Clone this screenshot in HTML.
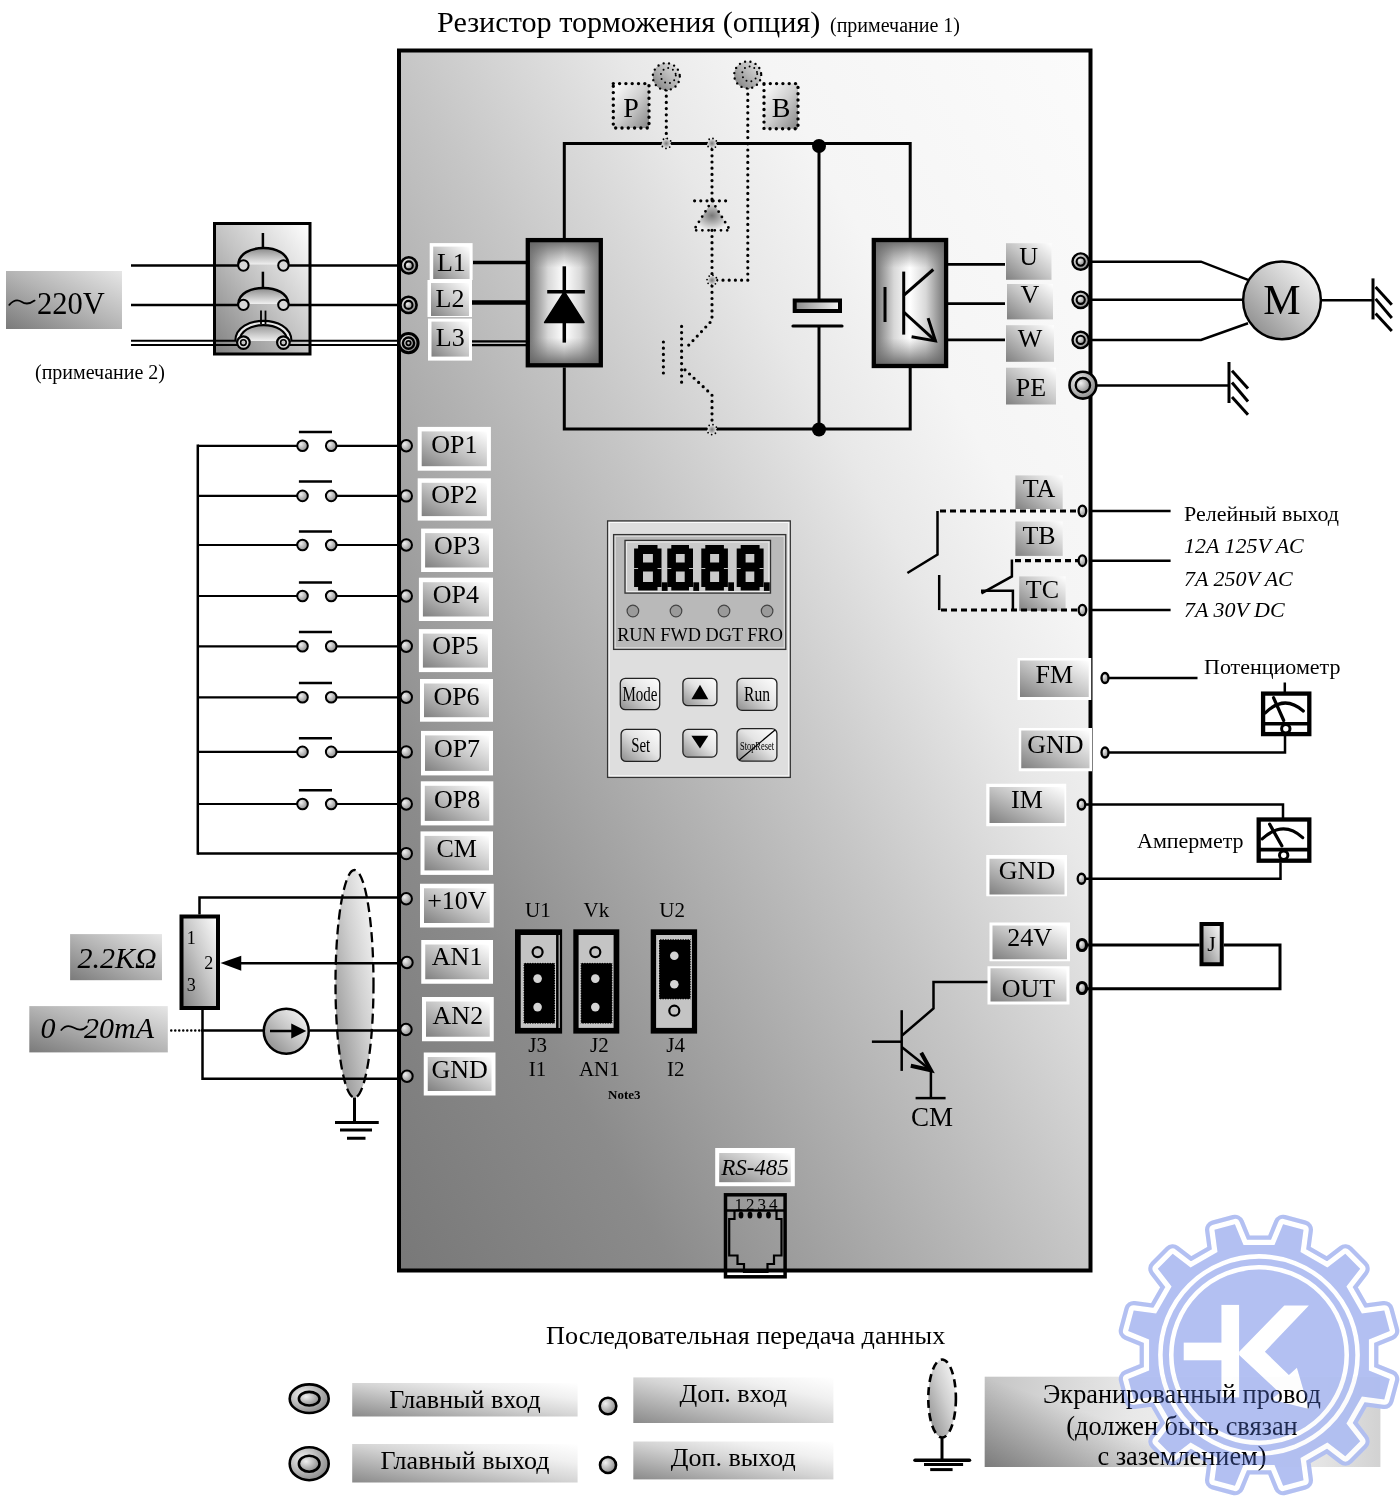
<!DOCTYPE html><html><head><meta charset="utf-8"><style>html,body{margin:0;padding:0;background:#fff;}svg{display:block;will-change:transform;}</style></head><body>
<svg width="1400" height="1500" viewBox="0 0 1400 1500" font-family='"Liberation Serif", serif'>
<defs>
<linearGradient id="mainbg" x1="1" y1="0" x2="0" y2="1">
 <stop offset="0" stop-color="#fbfbfb"/><stop offset="0.24" stop-color="#f5f5f5"/><stop offset="0.34" stop-color="#e8e8e8"/>
 <stop offset="0.5" stop-color="#c6c6c6"/><stop offset="0.8" stop-color="#8b8b8b"/><stop offset="1" stop-color="#787878"/>
</linearGradient>
<linearGradient id="lg" x1="1" y1="0" x2="0" y2="1">
 <stop offset="0" stop-color="#ffffff"/><stop offset="0.5" stop-color="#c4c4c4"/><stop offset="1" stop-color="#808080"/>
</linearGradient>
<linearGradient id="lg2" x1="1" y1="0" x2="0" y2="1">
 <stop offset="0" stop-color="#e6e6e6"/><stop offset="0.5" stop-color="#b4b4b4"/><stop offset="1" stop-color="#7a7a7a"/>
</linearGradient>
<linearGradient id="leg" x1="1" y1="0" x2="0" y2="1">
 <stop offset="0" stop-color="#ffffff"/><stop offset="0.25" stop-color="#f0f0f0"/><stop offset="0.5" stop-color="#d4d4d4"/><stop offset="1" stop-color="#8a8a8a"/>
</linearGradient>
<linearGradient id="shh" x1="0" y1="0" x2="1" y2="0">
 <stop offset="0" stop-color="#c4c4c4"/><stop offset="0.2" stop-color="#d8d8d8"/><stop offset="0.37" stop-color="#e8e8e8"/><stop offset="0.6" stop-color="#f2f2f2"/><stop offset="0.85" stop-color="#e4e4e4"/><stop offset="1" stop-color="#d2d2d2"/>
</linearGradient>
<linearGradient id="shv" gradientUnits="userSpaceOnUse" x1="984.7" y1="1376.7" x2="956.6" y2="1456.9">
 <stop offset="0" stop-color="#000" stop-opacity="0"/><stop offset="1" stop-color="#000" stop-opacity="0.37"/>
</linearGradient>
<radialGradient id="tg" cx="0.35" cy="0.35" r="0.7">
 <stop offset="0" stop-color="#f0f0f0"/><stop offset="1" stop-color="#8a8a8a"/>
</radialGradient>
<radialGradient id="boxg" cx="0.5" cy="0.5" r="0.6">
 <stop offset="0" stop-color="#ffffff"/><stop offset="0.45" stop-color="#eeeeee"/><stop offset="1" stop-color="#6e6e6e"/>
</radialGradient>
<linearGradient id="hbox" x1="0" y1="0" x2="1" y2="0">
 <stop offset="0" stop-color="#6c6c6c"/><stop offset="0.28" stop-color="#d8d8d8"/><stop offset="0.5" stop-color="#ffffff"/><stop offset="0.72" stop-color="#d8d8d8"/><stop offset="1" stop-color="#6c6c6c"/>
</linearGradient>
<linearGradient id="vbox" x1="0" y1="0" x2="0" y2="1">
 <stop offset="0" stop-color="#606060" stop-opacity="0.95"/><stop offset="0.22" stop-color="#808080" stop-opacity="0"/><stop offset="0.78" stop-color="#808080" stop-opacity="0"/><stop offset="1" stop-color="#606060" stop-opacity="0.95"/>
</linearGradient>
<linearGradient id="arcg" x1="0" y1="0" x2="0" y2="1">
 <stop offset="0" stop-color="#8a8a8a"/><stop offset="1" stop-color="#f0f0f0"/>
</linearGradient>
<linearGradient id="pbg" x1="0" y1="0" x2="1" y2="1">
 <stop offset="0" stop-color="#ffffff"/><stop offset="0.5" stop-color="#d0d0d0"/><stop offset="1" stop-color="#858585"/>
</linearGradient>
<linearGradient id="capg" x1="0" y1="0" x2="1" y2="0">
 <stop offset="0" stop-color="#8a8a8a"/><stop offset="1" stop-color="#f4f4f4"/>
</linearGradient>
<radialGradient id="dotg" cx="0.5" cy="0.5" r="0.5">
 <stop offset="0" stop-color="#777"/><stop offset="1" stop-color="#eee"/>
</radialGradient>
<linearGradient id="ellg" x1="1" y1="0" x2="0" y2="1">
 <stop offset="0" stop-color="#fdfdfd"/><stop offset="0.45" stop-color="#d0d0d0"/><stop offset="1" stop-color="#888888"/>
</linearGradient>
<linearGradient id="btng" x1="1" y1="0" x2="0" y2="1">
 <stop offset="0" stop-color="#ffffff"/><stop offset="0.45" stop-color="#e4e4e4"/><stop offset="1" stop-color="#8c8c8c"/>
</linearGradient>
</defs>
<text x="437" y="32" font-size="30.2" text-anchor="start" fill="#000" >Резистор торможения (опция)</text>
<text x="830" y="32" font-size="20" text-anchor="start" fill="#000" >(примечание 1)</text>
<rect x="399" y="50.5" width="691.5" height="1220" fill="url(#mainbg)" stroke="#000" stroke-width="4"/>
<rect x="6" y="271" width="116" height="58" fill="url(#lg2)"/>
<text x="37" y="314" font-size="30.5" text-anchor="start" fill="#000" >220V</text>
<path d="M9.3,304.8 Q15.5,297.8 21.5,301.8 T34.6,300.6" fill="none" stroke="#000" stroke-width="1.8" stroke-linecap="round"/>
<text x="35" y="379" font-size="20" text-anchor="start" fill="#000" >(примечание 2)</text>
<rect x="214.5" y="223.5" width="95.5" height="130.5" fill="url(#lg)" stroke="#000" stroke-width="3"/>
<line x1="131" y1="265.5" x2="238" y2="265.5" stroke="#000" stroke-width="2.5" />
<line x1="288.5" y1="265.5" x2="397" y2="265.5" stroke="#000" stroke-width="2.5" />
<line x1="131" y1="304.9" x2="238" y2="304.9" stroke="#000" stroke-width="2.5" />
<line x1="288.5" y1="304.9" x2="397" y2="304.9" stroke="#000" stroke-width="2.5" />
<line x1="131" y1="340.7" x2="237" y2="340.7" stroke="#000" stroke-width="2" />
<line x1="289.5" y1="340.7" x2="397" y2="340.7" stroke="#000" stroke-width="2" />
<line x1="131" y1="344.9" x2="237" y2="344.9" stroke="#000" stroke-width="2" />
<line x1="289.5" y1="344.9" x2="397" y2="344.9" stroke="#000" stroke-width="2" />
<path d="M238.5,264.5 C238.5,242.6 288.3,242.6 288.3,264.5" fill="url(#arcg)" stroke="#000" stroke-width="2.5"/>
<line x1="262.9" y1="233" x2="262.9" y2="247.6" stroke="#000" stroke-width="2.5" />
<circle cx="243.4" cy="265.5" r="5.2" fill="#d8d8d8" stroke="#000" stroke-width="2"/>
<circle cx="283.4" cy="265.5" r="5.2" fill="#d8d8d8" stroke="#000" stroke-width="2"/>
<path d="M238.5,303.9 C238.5,282.6 288.3,282.6 288.3,303.9" fill="url(#arcg)" stroke="#000" stroke-width="2.5"/>
<line x1="262.9" y1="271.7" x2="262.9" y2="287.6" stroke="#000" stroke-width="2.5" />
<circle cx="243.4" cy="304.9" r="5.2" fill="#d8d8d8" stroke="#000" stroke-width="2"/>
<circle cx="283.4" cy="304.9" r="5.2" fill="#d8d8d8" stroke="#000" stroke-width="2"/>
<path d="M237.5,341 C237.5,317 289.3,317 289.3,341" fill="url(#arcg)" stroke="#000" stroke-width="6.5"/>
<path d="M237.5,341 C237.5,317 289.3,317 289.3,341" fill="none" stroke="#e8e8e8" stroke-width="2.2"/>
<line x1="261" y1="310.6" x2="261" y2="324" stroke="#000" stroke-width="1.8" />
<line x1="265.5" y1="310.6" x2="265.5" y2="324" stroke="#000" stroke-width="1.8" />
<circle cx="243.4" cy="342.6" r="6.3" fill="#e0e0e0" stroke="#000" stroke-width="2.2"/>
<circle cx="243.4" cy="342.6" r="2.8" fill="#c8c8c8" stroke="#000" stroke-width="1.6"/>
<circle cx="283.4" cy="342.6" r="6.3" fill="#e0e0e0" stroke="#000" stroke-width="2.2"/>
<circle cx="283.4" cy="342.6" r="2.8" fill="#c8c8c8" stroke="#000" stroke-width="1.6"/>
<circle cx="408.8" cy="265.4" r="8.1" fill="url(#tg)" stroke="#000" stroke-width="2.6"/>
<circle cx="408.8" cy="265.4" r="4.0" fill="url(#tg)" stroke="#000" stroke-width="2.1"/>
<circle cx="408.5" cy="304.9" r="8.1" fill="url(#tg)" stroke="#000" stroke-width="2.6"/>
<circle cx="408.5" cy="304.9" r="4.0" fill="url(#tg)" stroke="#000" stroke-width="2.1"/>
<circle cx="408.5" cy="343.1" r="9.6" fill="url(#tg)" stroke="#000" stroke-width="3"/>
<circle cx="408.5" cy="343.1" r="5.6" fill="url(#tg)" stroke="#000" stroke-width="2.4"/>
<circle cx="408.5" cy="343.1" r="2.2" fill="#bbb" stroke="#000" stroke-width="1.8"/>
<rect x="429.7" y="243.1" width="42.900000000000034" height="36.900000000000006" fill="#fff"/>
<rect x="433.2" y="246.6" width="36.400000000000034" height="32.400000000000006" fill="url(#lg)"/>
<text x="451.4" y="271.4" font-size="26" text-anchor="middle" fill="#000" >L1</text>
<rect x="427.5" y="280" width="44.5" height="37" fill="#fff"/>
<rect x="431.0" y="283" width="38.0" height="33" fill="url(#lg)"/>
<text x="450.0" y="307.4" font-size="26" text-anchor="middle" fill="#000" >L2</text>
<rect x="428" y="318.6" width="44" height="42.0" fill="#fff"/>
<rect x="431.5" y="321.6" width="37.5" height="35.0" fill="url(#lg)"/>
<text x="450.25" y="346" font-size="26" text-anchor="middle" fill="#000" >L3</text>
<line x1="473" y1="262.5" x2="527" y2="262.5" stroke="#000" stroke-width="3.5" />
<line x1="472" y1="302.6" x2="527" y2="302.6" stroke="#000" stroke-width="4.5" />
<line x1="472" y1="341.4" x2="527" y2="341.4" stroke="#000" stroke-width="2.2" />
<line x1="472" y1="345.1" x2="527" y2="345.1" stroke="#000" stroke-width="2.2" />
<polyline points="564.3,238 564.3,143.4 910.2,143.4 910.2,238" fill="none" stroke="#000" stroke-width="3" />
<polyline points="564.3,367.4 564.3,429 910.2,429 910.2,368" fill="none" stroke="#000" stroke-width="3" />
<rect x="527.8" y="240.1" width="73" height="125.2" fill="url(#hbox)"/>
<rect x="527.8" y="240.1" width="73" height="125.2" fill="url(#vbox)" stroke="#000" stroke-width="4.3"/>
<line x1="564.3" y1="266.3" x2="564.3" y2="342.6" stroke="#000" stroke-width="3.5" />
<line x1="547.2" y1="291.7" x2="584.9" y2="291.7" stroke="#000" stroke-width="3.5" />
<polygon points="564.3,291.7 544.6,322.5 584,322.5" fill="#000" stroke="#000" stroke-width="1.5" stroke-linejoin="round"/>
<rect x="873.8" y="240" width="72.3" height="126" fill="url(#hbox)"/>
<rect x="873.8" y="240" width="72.3" height="126" fill="url(#vbox)" stroke="#000" stroke-width="4.3"/>
<line x1="885" y1="287" x2="885" y2="322" stroke="#000" stroke-width="3" />
<line x1="903.7" y1="271.6" x2="903.7" y2="334.6" stroke="#000" stroke-width="3" />
<line x1="903.7" y1="295.4" x2="933.3" y2="269.5" stroke="#000" stroke-width="3" />
<line x1="903.7" y1="312" x2="935.4" y2="340.9" stroke="#000" stroke-width="3" />
<polyline points="928.1,318.1 935.4,340.9 911.6,336.7" fill="none" stroke="#000" stroke-width="3" />
<line x1="948" y1="264.4" x2="1005" y2="264.4" stroke="#000" stroke-width="2.8" />
<line x1="948" y1="303.6" x2="1005" y2="303.6" stroke="#000" stroke-width="2.8" />
<line x1="948" y1="339.8" x2="1005" y2="339.8" stroke="#000" stroke-width="2.8" />
<line x1="819" y1="146" x2="819" y2="300" stroke="#000" stroke-width="3" />
<line x1="819" y1="326" x2="819" y2="429.5" stroke="#000" stroke-width="3" />
<rect x="794.7" y="300.5" width="45.3" height="10.5" fill="url(#capg)" stroke="#000" stroke-width="4"/>
<line x1="793" y1="326" x2="842" y2="326" stroke="#000" stroke-width="3.2" stroke-linecap="round"/>
<circle cx="819" cy="146" r="7" fill="#000"/>
<circle cx="819" cy="429.5" r="7" fill="#000"/>
<polyline points="666.3,90 666.3,143.4" fill="none" stroke="#000" stroke-width="3.2" stroke-dasharray="0 6.2" stroke-linecap="round"/>
<polyline points="747.8,88 747.8,280.2 712,280.2" fill="none" stroke="#000" stroke-width="3.2" stroke-dasharray="0 6.2" stroke-linecap="round"/>
<polyline points="712,143.4 712,200.8" fill="none" stroke="#000" stroke-width="3.2" stroke-dasharray="0 6.2" stroke-linecap="round"/>
<polygon points="712,200.8 693.7,230.3 730.1,230.3" fill="url(#dotg)"/>
<polyline points="712,200.8 693.7,230.3 730.1,230.3 712,200.8" fill="none" stroke="#000" stroke-width="2.8" stroke-dasharray="0 6.2" stroke-linecap="round"/>
<polyline points="694.6,200.8 726.7,200.8" fill="none" stroke="#000" stroke-width="3.2" stroke-dasharray="0 6.2" stroke-linecap="round"/>
<polyline points="712,230.3 712,320.4 685,349" fill="none" stroke="#000" stroke-width="3.2" stroke-dasharray="0 6.2" stroke-linecap="round"/>
<polyline points="681.6,326.4 681.6,388" fill="none" stroke="#000" stroke-width="3.2" stroke-dasharray="0 6.2" stroke-linecap="round"/>
<polyline points="663.4,342 663.4,373.2" fill="none" stroke="#000" stroke-width="3.2" stroke-dasharray="0 6.2" stroke-linecap="round"/>
<polyline points="685,369.8 712,394.9 712,429.6" fill="none" stroke="#000" stroke-width="3.2" stroke-dasharray="0 6.2" stroke-linecap="round"/>
<circle cx="666.3" cy="143.4" r="5" fill="url(#dotg)"/>
<circle cx="666.3" cy="143.4" r="5" fill="none" stroke="#000" stroke-width="1.8" stroke-dasharray="0 4" stroke-linecap="round"/>
<circle cx="712" cy="143.4" r="5" fill="url(#dotg)"/>
<circle cx="712" cy="143.4" r="5" fill="none" stroke="#000" stroke-width="1.8" stroke-dasharray="0 4" stroke-linecap="round"/>
<circle cx="712" cy="280.2" r="5" fill="url(#dotg)"/>
<circle cx="712" cy="280.2" r="5" fill="none" stroke="#000" stroke-width="1.8" stroke-dasharray="0 4" stroke-linecap="round"/>
<circle cx="712" cy="429.6" r="5" fill="url(#dotg)"/>
<circle cx="712" cy="429.6" r="5" fill="none" stroke="#000" stroke-width="1.8" stroke-dasharray="0 4" stroke-linecap="round"/>
<circle cx="666.3" cy="76.6" r="13.5" fill="url(#lg2)"/>
<circle cx="666.3" cy="76.6" r="13.5" fill="none" stroke="#000" stroke-width="2.4" stroke-dasharray="0 5.5" stroke-linecap="round"/>
<circle cx="668.3" cy="75.6" r="7.5" fill="none" stroke="#000" stroke-width="2" stroke-dasharray="0 5" stroke-linecap="round"/>
<circle cx="747.7" cy="74.9" r="13.5" fill="url(#lg2)"/>
<circle cx="747.7" cy="74.9" r="13.5" fill="none" stroke="#000" stroke-width="2.4" stroke-dasharray="0 5.5" stroke-linecap="round"/>
<circle cx="749.7" cy="73.9" r="7.5" fill="none" stroke="#000" stroke-width="2" stroke-dasharray="0 5" stroke-linecap="round"/>
<rect x="613.3" y="83.6" width="35.700000000000045" height="44.400000000000006" fill="url(#pbg)" stroke="#000" stroke-width="3.4" stroke-dasharray="0 6.3" stroke-linecap="round"/>
<text x="631.15" y="117" font-size="28" text-anchor="middle" fill="#000" >P</text>
<rect x="764" y="83.6" width="34" height="45.099999999999994" fill="url(#pbg)" stroke="#000" stroke-width="3.4" stroke-dasharray="0 6.3" stroke-linecap="round"/>
<text x="781.0" y="117" font-size="28" text-anchor="middle" fill="#000" >B</text>
<rect x="1006" y="243.2" width="45.5" height="36.60000000000002" fill="url(#lg)"/>
<text x="1028.75" y="265" font-size="26" text-anchor="middle" fill="#000" >U</text>
<rect x="1007" y="284" width="46" height="35.39999999999998" fill="url(#lg)"/>
<text x="1030.0" y="303" font-size="26" text-anchor="middle" fill="#000" >V</text>
<rect x="1006" y="325.2" width="48" height="36.60000000000002" fill="url(#lg)"/>
<text x="1030.0" y="347" font-size="26" text-anchor="middle" fill="#000" >W</text>
<rect x="1006" y="367.7" width="50" height="36.80000000000001" fill="url(#lg)"/>
<text x="1031.0" y="395.7" font-size="26" text-anchor="middle" fill="#000" >PE</text>
<circle cx="1080.7" cy="261.6" r="8.2" fill="url(#tg)" stroke="#000" stroke-width="2.4"/>
<circle cx="1080.7" cy="261.6" r="4.1" fill="url(#tg)" stroke="#000" stroke-width="2.1"/>
<circle cx="1080.7" cy="299.8" r="8.2" fill="url(#tg)" stroke="#000" stroke-width="2.4"/>
<circle cx="1080.7" cy="299.8" r="4.1" fill="url(#tg)" stroke="#000" stroke-width="2.1"/>
<circle cx="1080.7" cy="339.9" r="8.2" fill="url(#tg)" stroke="#000" stroke-width="2.4"/>
<circle cx="1080.7" cy="339.9" r="4.1" fill="url(#tg)" stroke="#000" stroke-width="2.1"/>
<circle cx="1082.9" cy="385.2" r="13.4" fill="url(#tg)" stroke="#000" stroke-width="2.6"/>
<circle cx="1082.9" cy="385.2" r="7.2" fill="url(#tg)" stroke="#000" stroke-width="2.3"/>
<polyline points="1090,261.7 1201,261.7 1248,279.8" fill="none" stroke="#000" stroke-width="2.5" />
<line x1="1090" y1="299.8" x2="1243" y2="299.8" stroke="#000" stroke-width="2.5" />
<polyline points="1090,339.9 1201,339.9 1248,323.3" fill="none" stroke="#000" stroke-width="2.5" />
<circle cx="1282" cy="300.3" r="38.9" fill="url(#lg)" stroke="#000" stroke-width="2.5"/>
<text x="1282" y="313.5" font-size="42" text-anchor="middle" fill="#000" >M</text>
<line x1="1321" y1="300.3" x2="1372.7" y2="300.3" stroke="#000" stroke-width="2.5" />
<line x1="1373" y1="278.4" x2="1373" y2="319.4" stroke="#000" stroke-width="3" />
<line x1="1375.6" y1="287" x2="1391.8" y2="304.8" stroke="#000" stroke-width="3" />
<line x1="1375.6" y1="298.9" x2="1391.8" y2="318" stroke="#000" stroke-width="3" />
<line x1="1375.6" y1="313.6" x2="1391.8" y2="331" stroke="#000" stroke-width="3" />
<line x1="1096" y1="385.4" x2="1229" y2="385.4" stroke="#000" stroke-width="2.5" />
<line x1="1229" y1="362" x2="1229" y2="403" stroke="#000" stroke-width="3" />
<line x1="1232" y1="370.8" x2="1248" y2="388.4" stroke="#000" stroke-width="3" />
<line x1="1232" y1="382.5" x2="1248" y2="401.5" stroke="#000" stroke-width="3" />
<line x1="1232" y1="397" x2="1248" y2="414.8" stroke="#000" stroke-width="3" />
<rect x="417.7" y="426.9" width="73.19999999999999" height="43.80000000000001" fill="#fff"/>
<rect x="421.7" y="431.4" width="65.19999999999999" height="34.80000000000001" fill="url(#lg)"/>
<text x="454.29999999999995" y="453.1" font-size="26" text-anchor="middle" fill="#000" >OP1</text>
<line x1="197.8" y1="445.8" x2="297" y2="445.8" stroke="#000" stroke-width="2.2" />
<line x1="336.5" y1="445.8" x2="400" y2="445.8" stroke="#000" stroke-width="2.2" />
<circle cx="302.5" cy="445.8" r="5.3" fill="url(#tg)" stroke="#000" stroke-width="2"/>
<circle cx="331.2" cy="445.8" r="5.3" fill="url(#tg)" stroke="#000" stroke-width="2"/>
<line x1="298.9" y1="431.9" x2="332" y2="431.9" stroke="#000" stroke-width="2.5" />
<circle cx="406.3" cy="445.8" r="5.7" fill="url(#tg)" stroke="#000" stroke-width="2"/>
<rect x="417.7" y="478.3" width="73.19999999999999" height="42.30000000000001" fill="#fff"/>
<rect x="421.7" y="482.8" width="65.19999999999999" height="33.30000000000001" fill="url(#lg)"/>
<text x="454.29999999999995" y="503.4" font-size="26" text-anchor="middle" fill="#000" >OP2</text>
<line x1="197.8" y1="495.9" x2="297" y2="495.9" stroke="#000" stroke-width="2.2" />
<line x1="336.5" y1="495.9" x2="400" y2="495.9" stroke="#000" stroke-width="2.2" />
<circle cx="302.5" cy="495.9" r="5.3" fill="url(#tg)" stroke="#000" stroke-width="2"/>
<circle cx="331.2" cy="495.9" r="5.3" fill="url(#tg)" stroke="#000" stroke-width="2"/>
<line x1="298.9" y1="481.5" x2="332" y2="481.5" stroke="#000" stroke-width="2.5" />
<circle cx="406.3" cy="495.9" r="5.7" fill="url(#tg)" stroke="#000" stroke-width="2"/>
<rect x="421.1" y="528.6" width="71.89999999999998" height="43.39999999999998" fill="#fff"/>
<rect x="425.1" y="533.1" width="63.89999999999998" height="34.39999999999998" fill="url(#lg)"/>
<text x="457.05" y="553.7" font-size="26" text-anchor="middle" fill="#000" >OP3</text>
<line x1="197.8" y1="545" x2="297" y2="545" stroke="#000" stroke-width="2.2" />
<line x1="336.5" y1="545" x2="400" y2="545" stroke="#000" stroke-width="2.2" />
<circle cx="302.5" cy="545" r="5.3" fill="url(#tg)" stroke="#000" stroke-width="2"/>
<circle cx="331.2" cy="545" r="5.3" fill="url(#tg)" stroke="#000" stroke-width="2"/>
<line x1="298.9" y1="531.5" x2="332" y2="531.5" stroke="#000" stroke-width="2.5" />
<circle cx="406.3" cy="545" r="5.7" fill="url(#tg)" stroke="#000" stroke-width="2"/>
<rect x="418.9" y="577.7" width="74.10000000000002" height="43.299999999999955" fill="#fff"/>
<rect x="422.9" y="582.2" width="66.10000000000002" height="34.299999999999955" fill="url(#lg)"/>
<text x="455.95" y="602.9" font-size="26" text-anchor="middle" fill="#000" >OP4</text>
<line x1="197.8" y1="596" x2="297" y2="596" stroke="#000" stroke-width="2.2" />
<line x1="336.5" y1="596" x2="400" y2="596" stroke="#000" stroke-width="2.2" />
<circle cx="302.5" cy="596" r="5.3" fill="url(#tg)" stroke="#000" stroke-width="2"/>
<circle cx="331.2" cy="596" r="5.3" fill="url(#tg)" stroke="#000" stroke-width="2"/>
<line x1="298.9" y1="582.5" x2="332" y2="582.5" stroke="#000" stroke-width="2.5" />
<circle cx="406.3" cy="596" r="5.7" fill="url(#tg)" stroke="#000" stroke-width="2"/>
<rect x="418.9" y="629.1" width="73.10000000000002" height="43.0" fill="#fff"/>
<rect x="422.9" y="633.6" width="65.10000000000002" height="34.0" fill="url(#lg)"/>
<text x="455.45" y="654.3" font-size="26" text-anchor="middle" fill="#000" >OP5</text>
<line x1="197.8" y1="646.3" x2="297" y2="646.3" stroke="#000" stroke-width="2.2" />
<line x1="336.5" y1="646.3" x2="400" y2="646.3" stroke="#000" stroke-width="2.2" />
<circle cx="302.5" cy="646.3" r="5.3" fill="url(#tg)" stroke="#000" stroke-width="2"/>
<circle cx="331.2" cy="646.3" r="5.3" fill="url(#tg)" stroke="#000" stroke-width="2"/>
<line x1="298.9" y1="631.9" x2="332" y2="631.9" stroke="#000" stroke-width="2.5" />
<circle cx="406.3" cy="646.3" r="5.7" fill="url(#tg)" stroke="#000" stroke-width="2"/>
<rect x="420" y="679" width="73" height="42.700000000000045" fill="#fff"/>
<rect x="424" y="683.5" width="65" height="33.700000000000045" fill="url(#lg)"/>
<text x="456.5" y="704.6" font-size="26" text-anchor="middle" fill="#000" >OP6</text>
<line x1="197.8" y1="697.3" x2="297" y2="697.3" stroke="#000" stroke-width="2.2" />
<line x1="336.5" y1="697.3" x2="400" y2="697.3" stroke="#000" stroke-width="2.2" />
<circle cx="302.5" cy="697.3" r="5.3" fill="url(#tg)" stroke="#000" stroke-width="2"/>
<circle cx="331.2" cy="697.3" r="5.3" fill="url(#tg)" stroke="#000" stroke-width="2"/>
<line x1="298.9" y1="682.9" x2="332" y2="682.9" stroke="#000" stroke-width="2.5" />
<circle cx="406.3" cy="697.3" r="5.7" fill="url(#tg)" stroke="#000" stroke-width="2"/>
<rect x="421" y="730.9" width="72" height="44.5" fill="#fff"/>
<rect x="425" y="735.4" width="64" height="35.5" fill="url(#lg)"/>
<text x="457.0" y="757.1" font-size="26" text-anchor="middle" fill="#000" >OP7</text>
<line x1="197.8" y1="751.9" x2="297" y2="751.9" stroke="#000" stroke-width="2.2" />
<line x1="336.5" y1="751.9" x2="400" y2="751.9" stroke="#000" stroke-width="2.2" />
<circle cx="302.5" cy="751.9" r="5.3" fill="url(#tg)" stroke="#000" stroke-width="2"/>
<circle cx="331.2" cy="751.9" r="5.3" fill="url(#tg)" stroke="#000" stroke-width="2"/>
<line x1="298.9" y1="738.2" x2="332" y2="738.2" stroke="#000" stroke-width="2.5" />
<circle cx="406.3" cy="751.9" r="5.7" fill="url(#tg)" stroke="#000" stroke-width="2"/>
<rect x="420.8" y="781.3" width="72.5" height="44.10000000000002" fill="#fff"/>
<rect x="424.8" y="785.8" width="64.5" height="35.10000000000002" fill="url(#lg)"/>
<text x="457.05" y="807.5" font-size="26" text-anchor="middle" fill="#000" >OP8</text>
<line x1="197.8" y1="804" x2="297" y2="804" stroke="#000" stroke-width="2.2" />
<line x1="336.5" y1="804" x2="400" y2="804" stroke="#000" stroke-width="2.2" />
<circle cx="302.5" cy="804" r="5.3" fill="url(#tg)" stroke="#000" stroke-width="2"/>
<circle cx="331.2" cy="804" r="5.3" fill="url(#tg)" stroke="#000" stroke-width="2"/>
<line x1="298.9" y1="790.3" x2="332" y2="790.3" stroke="#000" stroke-width="2.5" />
<circle cx="406.3" cy="804" r="5.7" fill="url(#tg)" stroke="#000" stroke-width="2"/>
<rect x="420.5" y="831.4" width="72.5" height="43.5" fill="#fff"/>
<rect x="424.5" y="835.9" width="64.5" height="34.5" fill="url(#lg)"/>
<text x="456.75" y="856.6" font-size="26" text-anchor="middle" fill="#000" >CM</text>
<line x1="197.8" y1="853.6" x2="400" y2="853.6" stroke="#000" stroke-width="2.5" />
<circle cx="406.3" cy="853.6" r="5.7" fill="url(#tg)" stroke="#000" stroke-width="2"/>
<line x1="197.8" y1="444.5" x2="197.8" y2="854.8" stroke="#000" stroke-width="2.5" />
<rect x="420" y="883.75" width="73.75" height="43.75" fill="#fff"/>
<rect x="424" y="888.25" width="65.75" height="34.75" fill="url(#lg)"/>
<text x="456.875" y="908.75" font-size="26" text-anchor="middle" fill="#000" >+10V</text>
<rect x="421.25" y="940" width="71.75" height="43.75" fill="#fff"/>
<rect x="425.25" y="944.5" width="63.75" height="34.75" fill="url(#lg)"/>
<text x="457.125" y="965" font-size="26" text-anchor="middle" fill="#000" >AN1</text>
<rect x="422" y="997" width="71.75" height="44.25" fill="#fff"/>
<rect x="426" y="1001.5" width="63.75" height="35.25" fill="url(#lg)"/>
<text x="457.875" y="1023.75" font-size="26" text-anchor="middle" fill="#000" >AN2</text>
<rect x="423.75" y="1052.5" width="71.75" height="43.0" fill="#fff"/>
<rect x="427.75" y="1057.0" width="63.75" height="34.0" fill="url(#lg)"/>
<text x="459.625" y="1077.5" font-size="26" text-anchor="middle" fill="#000" >GND</text>
<ellipse cx="354.5" cy="983.75" rx="19" ry="113.75" fill="url(#ellg)" stroke="#000" stroke-width="2.3" stroke-dasharray="10 5"/>
<line x1="354.5" y1="1097.5" x2="354.5" y2="1122.5" stroke="#000" stroke-width="3" />
<line x1="335" y1="1122.5" x2="378.75" y2="1122.5" stroke="#000" stroke-width="3.2" />
<line x1="340" y1="1130" x2="372" y2="1130" stroke="#000" stroke-width="3" />
<line x1="347" y1="1138.25" x2="365.5" y2="1138.25" stroke="#000" stroke-width="3" />
<polyline points="199.5,914.5 199.5,897.5 400.5,897.5" fill="none" stroke="#000" stroke-width="2.5" />
<circle cx="406.25" cy="898.75" r="5.7" fill="url(#tg)" stroke="#000" stroke-width="2"/>
<line x1="236" y1="963.25" x2="400.5" y2="963.25" stroke="#000" stroke-width="2.5" />
<polygon points="220.5,963 241.25,955.75 241.25,970.75" fill="#000"/>
<circle cx="407" cy="962.5" r="5.7" fill="url(#tg)" stroke="#000" stroke-width="2"/>
<rect x="181.5" y="916.5" width="36.5" height="91.5" fill="url(#lg)" stroke="#000" stroke-width="4"/>
<text x="191.25" y="943.75" font-size="18" text-anchor="middle" fill="#000" >1</text>
<text x="208.75" y="968.75" font-size="18" text-anchor="middle" fill="#000" >2</text>
<text x="191.25" y="991.25" font-size="18" text-anchor="middle" fill="#000" >3</text>
<polyline points="202.5,1010 202.5,1078.75 400.5,1078.75" fill="none" stroke="#000" stroke-width="2.5" />
<circle cx="407" cy="1076.25" r="5.7" fill="url(#tg)" stroke="#000" stroke-width="2"/>
<line x1="201" y1="1030.5" x2="263" y2="1030.5" stroke="#000" stroke-width="2.5" />
<line x1="309.5" y1="1030.5" x2="400.5" y2="1030.5" stroke="#000" stroke-width="2.5" />
<line x1="171.25" y1="1030.5" x2="201" y2="1030.5" stroke="#000" stroke-width="2.5" stroke-dasharray="0 4" stroke-linecap="round"/>
<circle cx="286.25" cy="1031.25" r="22.5" fill="url(#lg)" stroke="#000" stroke-width="2.5"/>
<line x1="270" y1="1031" x2="293" y2="1031" stroke="#000" stroke-width="2.5" />
<polygon points="306.25,1031 291.25,1023.5 291.25,1038.5" fill="#000"/>
<circle cx="406" cy="1029.5" r="5.7" fill="url(#tg)" stroke="#000" stroke-width="2"/>
<rect x="70.1" y="934.1" width="91.9" height="46.1" fill="url(#lg2)"/>
<text x="117" y="967.6" font-size="30" text-anchor="middle" fill="#000" font-style="italic" >2.2KΩ</text>
<rect x="29.3" y="1006.1" width="138.5" height="46.3" fill="url(#lg2)"/>
<text x="40.5" y="1038.3" font-size="30" text-anchor="start" fill="#000" font-style="italic" >0</text>
<text x="84" y="1038.3" font-size="30" text-anchor="start" fill="#000" font-style="italic" >20mA</text>
<path d="M61.3,1030 Q66.5,1023.5 74,1027.8 T87,1026.3" fill="none" stroke="#000" stroke-width="1.7" stroke-linecap="round"/>
<rect x="607.6" y="520.9" width="182.7" height="256.5" fill="#dedede" stroke="#333" stroke-width="1.3"/>
<rect x="613.6" y="534.6" width="172.2" height="114.8" fill="#b9b9b9" stroke="#333" stroke-width="1.3"/>
<rect x="625" y="540.4" width="145.5" height="52.7" fill="#cacaca" stroke="#333" stroke-width="1.3"/>
<rect x="609.2" y="522.5" width="179.5" height="253.3" fill="none" stroke="#fafafa" stroke-width="1"/>
<rect x="615.2" y="536.2" width="169" height="111.6" fill="none" stroke="#e4e4e4" stroke-width="0.9"/>
<rect x="626.6" y="542" width="142.3" height="49.5" fill="none" stroke="#f0f0f0" stroke-width="0.9"/>
<path d="M638.1,545 H657.5 V548.5 H661.5 V587.1 H657.5 V590.6 H638.1 V587.1 H634.1 V548.5 H638.1 Z M643,554 v8.6 h9.9 v-8.6 z M643,571.5 v10.4 h9.9 v-10.4 z" fill="#000" fill-rule="evenodd"/>
<line x1="634.1" y1="568.5" x2="638.1" y2="568.5" stroke="#d8d8d8" stroke-width="0.9"/>
<line x1="657.5" y1="568.5" x2="661.5" y2="568.5" stroke="#d8d8d8" stroke-width="0.9"/>
<rect x="661.8" y="582.3" width="5.8" height="8.6" fill="#000"/>
<path d="M671.3,545 H689 V548.5 H693 V587.1 H689 V590.6 H671.3 V587.1 H667.3 V548.5 H671.3 Z M675.9,554 v8.6 h8.8 v-8.6 z M675.9,571.5 v10.4 h8.8 v-10.4 z" fill="#000" fill-rule="evenodd"/>
<line x1="667.3" y1="568.5" x2="671.3" y2="568.5" stroke="#d8d8d8" stroke-width="0.9"/>
<line x1="689" y1="568.5" x2="693" y2="568.5" stroke="#d8d8d8" stroke-width="0.9"/>
<rect x="693.3" y="582.3" width="5.8" height="8.6" fill="#000"/>
<path d="M705.3,545 H723.9 V548.5 H727.9 V587.1 H723.9 V590.6 H705.3 V587.1 H701.3 V548.5 H705.3 Z M710.1,554 v8.6 h9 v-8.6 z M710.1,571.5 v10.4 h9 v-10.4 z" fill="#000" fill-rule="evenodd"/>
<line x1="701.3" y1="568.5" x2="705.3" y2="568.5" stroke="#d8d8d8" stroke-width="0.9"/>
<line x1="723.9" y1="568.5" x2="727.9" y2="568.5" stroke="#d8d8d8" stroke-width="0.9"/>
<rect x="728.1999999999999" y="582.3" width="5.8" height="8.6" fill="#000"/>
<path d="M740.7,545 H759.6 V548.5 H763.6 V587.1 H759.6 V590.6 H740.7 V587.1 H736.7 V548.5 H740.7 Z M745.6,554 v8.6 h8.7 v-8.6 z M745.6,571.5 v10.4 h8.7 v-10.4 z" fill="#000" fill-rule="evenodd"/>
<line x1="736.7" y1="568.5" x2="740.7" y2="568.5" stroke="#d8d8d8" stroke-width="0.9"/>
<line x1="759.6" y1="568.5" x2="763.6" y2="568.5" stroke="#d8d8d8" stroke-width="0.9"/>
<rect x="763.9" y="582.3" width="5.8" height="8.6" fill="#000"/>
<circle cx="632.9" cy="611" r="5.8" fill="#9a9a9a" stroke="#444" stroke-width="1.2"/>
<circle cx="676" cy="611" r="5.8" fill="#9a9a9a" stroke="#444" stroke-width="1.2"/>
<circle cx="724" cy="611" r="5.8" fill="#9a9a9a" stroke="#444" stroke-width="1.2"/>
<circle cx="767.1" cy="611" r="5.8" fill="#9a9a9a" stroke="#444" stroke-width="1.2"/>
<text x="700" y="640.7" font-size="18.3" text-anchor="middle" fill="#000" >RUN FWD DGT FRO</text>
<rect x="620.3" y="678.3" width="39.40000000000009" height="31.40000000000009" rx="5" ry="5" fill="url(#btng)" stroke="#222" stroke-width="1.3"/>
<rect x="682.9" y="678.3" width="34.0" height="27.40000000000009" rx="5" ry="5" fill="url(#btng)" stroke="#222" stroke-width="1.3"/>
<rect x="737" y="678.3" width="39.89999999999998" height="32.0" rx="5" ry="5" fill="url(#btng)" stroke="#222" stroke-width="1.3"/>
<rect x="621.1" y="729.3" width="39.19999999999993" height="32.10000000000002" rx="5" ry="5" fill="url(#btng)" stroke="#222" stroke-width="1.3"/>
<rect x="682.9" y="729.3" width="34.0" height="27.800000000000068" rx="5" ry="5" fill="url(#btng)" stroke="#222" stroke-width="1.3"/>
<rect x="737" y="728.6" width="39.89999999999998" height="32.5" rx="5" ry="5" fill="url(#btng)" stroke="#222" stroke-width="1.3"/>
<text x="640" y="700.5" font-size="20" text-anchor="middle" fill="#000" textLength="35" lengthAdjust="spacingAndGlyphs">Mode</text>
<text x="757" y="700.5" font-size="20" text-anchor="middle" fill="#000" textLength="26" lengthAdjust="spacingAndGlyphs">Run</text>
<text x="640.7" y="751.5" font-size="20" text-anchor="middle" fill="#000" textLength="19" lengthAdjust="spacingAndGlyphs">Set</text>
<text x="757" y="749.5" font-size="13" text-anchor="middle" fill="#000" textLength="34" lengthAdjust="spacingAndGlyphs">StopReset</text>
<polygon points="700,684.7 691.4,699.3 708.3,699.3" fill="#000"/>
<polygon points="700,748.6 691.4,735.7 708.3,735.7" fill="#000"/>
<line x1="739.3" y1="760" x2="775" y2="730" stroke="#000" stroke-width="1.3" />
<rect x="1015.4" y="475.4" width="47.30000000000007" height="33.60000000000002" fill="url(#lg)"/>
<text x="1039.05" y="497.3" font-size="26" text-anchor="middle" fill="#000" >TA</text>
<rect x="1015.4" y="521.5" width="47.30000000000007" height="34.39999999999998" fill="url(#lg)"/>
<text x="1039.05" y="544.2" font-size="26" text-anchor="middle" fill="#000" >TB</text>
<rect x="1019.2" y="576.4" width="46.399999999999864" height="34.39999999999998" fill="url(#lg)"/>
<text x="1042.4" y="598.4" font-size="26" text-anchor="middle" fill="#000" >TC</text>
<line x1="940" y1="511" x2="1078" y2="511" stroke="#000" stroke-width="3" stroke-dasharray="6 4"/>
<line x1="1015" y1="560.7" x2="1078" y2="560.7" stroke="#000" stroke-width="3.2" stroke-dasharray="6 4"/>
<line x1="941" y1="610.1" x2="1078" y2="610.1" stroke="#000" stroke-width="3" stroke-dasharray="6 4"/>
<polyline points="937.5,511 937.5,554.5 907.4,573" fill="none" stroke="#000" stroke-width="2.5" />
<polyline points="939.2,575 939.2,610.1" fill="none" stroke="#000" stroke-width="2.5" />
<polyline points="1011.9,559.6 1011.9,576.4 981.4,593.3" fill="none" stroke="#000" stroke-width="2.5" />
<polyline points="981,590.8 1012.9,590.8 1012.9,610.1" fill="none" stroke="#000" stroke-width="2.5" />
<ellipse cx="1082.4" cy="511" rx="3.8" ry="5.3" fill="url(#tg)" stroke="#000" stroke-width="2.3"/>
<line x1="1090" y1="511" x2="1170.6" y2="511" stroke="#000" stroke-width="2.5" />
<ellipse cx="1082.4" cy="560.7" rx="3.8" ry="5.3" fill="url(#tg)" stroke="#000" stroke-width="2.3"/>
<line x1="1090" y1="560.7" x2="1170.6" y2="560.7" stroke="#000" stroke-width="2.5" />
<ellipse cx="1082.4" cy="610.1" rx="3.8" ry="5.3" fill="url(#tg)" stroke="#000" stroke-width="2.3"/>
<line x1="1090" y1="610.1" x2="1170.6" y2="610.1" stroke="#000" stroke-width="2.5" />
<text x="1184" y="520.9" font-size="22" text-anchor="start" fill="#000" >Релейный выход</text>
<text x="1184" y="552.7" font-size="22" text-anchor="start" fill="#000" font-style="italic" >12A 125V AC</text>
<text x="1184" y="585.5" font-size="22" text-anchor="start" fill="#000" font-style="italic" >7A 250V AC</text>
<text x="1184" y="617.3" font-size="22" text-anchor="start" fill="#000" font-style="italic" >7A 30V DC</text>
<rect x="1017.5" y="658" width="73.75" height="42" fill="#fff"/>
<rect x="1020.0" y="660.5" width="68.75" height="36.5" fill="url(#lg)"/>
<text x="1054.375" y="682.5" font-size="26" text-anchor="middle" fill="#000" >FM</text>
<rect x="1018.75" y="728" width="73.25" height="43.25" fill="#fff"/>
<rect x="1021.25" y="730.5" width="68.25" height="37.75" fill="url(#lg)"/>
<text x="1055.375" y="752.5" font-size="26" text-anchor="middle" fill="#000" >GND</text>
<ellipse cx="1105" cy="678" rx="3.5" ry="5" fill="url(#tg)" stroke="#000" stroke-width="2.3"/>
<ellipse cx="1105" cy="752.5" rx="3.5" ry="5" fill="url(#tg)" stroke="#000" stroke-width="2.3"/>
<line x1="1108.5" y1="678" x2="1197.5" y2="678" stroke="#000" stroke-width="2.5" />
<polyline points="1108.5,752.5 1285,752.5 1285,736" fill="none" stroke="#000" stroke-width="2.5" />
<text x="1204" y="673.75" font-size="22" text-anchor="start" fill="#000" >Потенциометр</text>
<rect x="1263.1" y="693.6" width="46.200000000000045" height="40.5" fill="#fff" stroke="#000" stroke-width="4.3"/>
<line x1="1263.1" y1="723.7" x2="1309.3" y2="723.7" stroke="#000" stroke-width="3.6" />
<circle cx="1285.8" cy="728.7" r="4.2" fill="#fff" stroke="#000" stroke-width="3"/>
<path d="M1265.3,712.9 Q1284.3,694 1303.3,711" fill="none" stroke="#000" stroke-width="3.2" stroke-linecap="round"/>
<line x1="1273.5" y1="697.7" x2="1283.7" y2="720.5" stroke="#000" stroke-width="3.3" stroke-linecap="round"/>
<line x1="1284.8" y1="682.5" x2="1284.8" y2="692" stroke="#000" stroke-width="2.5" />
<rect x="986.25" y="783.75" width="80.0" height="42.5" fill="#fff"/>
<rect x="989.5" y="787.0" width="75.0" height="36.0" fill="url(#lg)"/>
<text x="1027.0" y="808" font-size="26" text-anchor="middle" fill="#000" >IM</text>
<rect x="986.25" y="855" width="80.75" height="41.25" fill="#fff"/>
<rect x="989.5" y="858.75" width="75.0" height="35.75" fill="url(#lg)"/>
<text x="1027.0" y="878.75" font-size="26" text-anchor="middle" fill="#000" >GND</text>
<rect x="989.5" y="922.5" width="80.5" height="38.75" fill="#fff"/>
<rect x="992.5" y="925.5" width="74.5" height="33.75" fill="url(#lg)"/>
<text x="1029.75" y="946.25" font-size="26" text-anchor="middle" fill="#000" >24V</text>
<rect x="987.5" y="966.25" width="82.0" height="38.25" fill="#fff"/>
<rect x="990.5" y="968.25" width="76.0" height="33.25" fill="url(#lg)"/>
<text x="1028.5" y="997" font-size="26" text-anchor="middle" fill="#000" >OUT</text>
<ellipse cx="1081.5" cy="804.5" rx="3.8" ry="5" fill="url(#tg)" stroke="#000" stroke-width="2.3"/>
<ellipse cx="1081.5" cy="878.75" rx="3.8" ry="5" fill="url(#tg)" stroke="#000" stroke-width="2.3"/>
<polyline points="1085,804.5 1283,804.5 1283,818" fill="none" stroke="#000" stroke-width="2.5" />
<polyline points="1085.5,878.75 1280.5,878.75 1280.5,862.5" fill="none" stroke="#000" stroke-width="2.5" />
<rect x="1258.7" y="819.5" width="50.59999999999991" height="41.200000000000045" fill="#fff" stroke="#000" stroke-width="4.3"/>
<line x1="1258.7" y1="849.6" x2="1309.3" y2="849.6" stroke="#000" stroke-width="3.6" />
<circle cx="1283.7" cy="855.3" r="4.2" fill="#fff" stroke="#000" stroke-width="3"/>
<path d="M1262.2,838.9 Q1283,819.5 1302.7,837.6" fill="none" stroke="#000" stroke-width="3.2" stroke-linecap="round"/>
<line x1="1269.7" y1="824.3" x2="1281.8" y2="845.8" stroke="#000" stroke-width="3.3" stroke-linecap="round"/>
<text x="1137" y="847.5" font-size="22" text-anchor="start" fill="#000" >Амперметр</text>
<ellipse cx="1082" cy="945" rx="4.5" ry="5.5" fill="url(#tg)" stroke="#000" stroke-width="3.2"/>
<ellipse cx="1082" cy="988" rx="4.5" ry="5.5" fill="url(#tg)" stroke="#000" stroke-width="3.2"/>
<line x1="1086" y1="945" x2="1199.5" y2="945" stroke="#000" stroke-width="3" />
<rect x="1201.5" y="924" width="20.25" height="40.25" fill="url(#lg)" stroke="#000" stroke-width="4"/>
<text x="1211.5" y="951.25" font-size="22" text-anchor="middle" fill="#000" >J</text>
<polyline points="1223.75,945 1280,945 1280,988.75 1086,988.75" fill="none" stroke="#000" stroke-width="3" />
<polyline points="987.5,981.9 933.5,981.9 933.5,1008.5 901.7,1035.8" fill="none" stroke="#000" stroke-width="2.5" />
<line x1="901.7" y1="1010.2" x2="901.7" y2="1070.9" stroke="#000" stroke-width="2.5" />
<line x1="871.9" y1="1041.7" x2="901.7" y2="1041.7" stroke="#000" stroke-width="2.5" />
<line x1="901.7" y1="1047.1" x2="930.9" y2="1070.3" stroke="#000" stroke-width="2.5" />
<polyline points="921.2,1052.8 930.9,1070.3 910.8,1065.8" fill="none" stroke="#000" stroke-width="4" />
<line x1="930.9" y1="1070.3" x2="930.9" y2="1098.1" stroke="#000" stroke-width="2.5" />
<line x1="915.6" y1="1098.1" x2="945.6" y2="1098.1" stroke="#000" stroke-width="2.5" />
<text x="932" y="1125.9" font-size="27" text-anchor="middle" fill="#000" >CM</text>
<rect x="515" y="929.3" width="47.10000000000002" height="104.3" fill="#000"/>
<rect x="520.7" y="935" width="35.39999999999998" height="92.9" fill="#c4c4c4"/>
<rect x="523.6" y="962.9" width="31.399999999999977" height="60.700000000000045" fill="#000" stroke="#fff" stroke-width="0.8" stroke-dasharray="1 1.5"/>
<circle cx="537.6" cy="952.1" r="5" fill="none" stroke="#000" stroke-width="2.2"/>
<circle cx="537.6" cy="978.6" r="4.3" fill="#d4d4d4"/>
<circle cx="537.6" cy="1007.1" r="4.3" fill="#d4d4d4"/>
<line x1="557.6" y1="935" x2="557.6" y2="1028" stroke="#000" stroke-width="1.6" />
<line x1="559.2" y1="935" x2="559.2" y2="1028" stroke="#c4c4c4" stroke-width="1.2"/>
<rect x="573.3" y="929.3" width="46.0" height="104.3" fill="#000"/>
<rect x="578.6" y="935" width="35.0" height="92.9" fill="#c4c4c4"/>
<rect x="580.7" y="962.9" width="31.699999999999932" height="60.700000000000045" fill="#000" stroke="#fff" stroke-width="0.8" stroke-dasharray="1 1.5"/>
<circle cx="595.3" cy="952.1" r="5" fill="none" stroke="#000" stroke-width="2.2"/>
<circle cx="595.3" cy="978.6" r="4.3" fill="#d4d4d4"/>
<circle cx="595.3" cy="1007.1" r="4.3" fill="#d4d4d4"/>
<rect x="650.7" y="929.3" width="46.39999999999998" height="104.3" fill="#000"/>
<rect x="656.1" y="935" width="35.799999999999955" height="92.9" fill="#c4c4c4"/>
<rect x="659" y="939.3" width="31.700000000000045" height="60.0" fill="#000" stroke="#fff" stroke-width="0.8" stroke-dasharray="1 1.5"/>
<circle cx="674.3" cy="1010.7" r="5" fill="none" stroke="#000" stroke-width="2.2"/>
<circle cx="674.3" cy="955.7" r="4.3" fill="#d4d4d4"/>
<circle cx="674.3" cy="984.3" r="4.3" fill="#d4d4d4"/>
<text x="537.9" y="917.1" font-size="21" text-anchor="middle" fill="#000" >U1</text>
<text x="596.4" y="917.1" font-size="21" text-anchor="middle" fill="#000" >Vk</text>
<text x="672.1" y="917.1" font-size="21" text-anchor="middle" fill="#000" >U2</text>
<text x="537.6" y="1052.1" font-size="21" text-anchor="middle" fill="#000" >J3</text>
<text x="537.6" y="1075.7" font-size="21" text-anchor="middle" fill="#000" >I1</text>
<text x="599.3" y="1052.1" font-size="21" text-anchor="middle" fill="#000" >J2</text>
<text x="599.3" y="1075.7" font-size="21" text-anchor="middle" fill="#000" >AN1</text>
<text x="675.7" y="1052.1" font-size="21" text-anchor="middle" fill="#000" >J4</text>
<text x="675.7" y="1075.7" font-size="21" text-anchor="middle" fill="#000" >I2</text>
<text x="624.3" y="1098.6" font-size="13" text-anchor="middle" fill="#000" font-weight="bold" >Note3</text>
<rect x="715.2" y="1148" width="79.59999999999991" height="38.200000000000045" fill="#fff"/>
<rect x="719.2" y="1153" width="71.59999999999991" height="29.200000000000045" fill="url(#lg)"/>
<text x="755.0" y="1174.5" font-size="23" text-anchor="middle" fill="#000" font-style="italic" >RS-485</text>
<rect x="725.5" y="1194.8" width="59.6" height="82" fill="none" stroke="#000" stroke-width="3.5"/>
<line x1="725.5" y1="1210.5" x2="785" y2="1210.5" stroke="#000" stroke-width="2.5" />
<text x="756" y="1209.5" font-size="17" text-anchor="middle" fill="#000" textLength="43" lengthAdjust="spacing">1234</text>
<polyline points="734.5,1210.5 734.5,1219 729.2,1219 729.2,1255.5 737.5,1255.5 737.5,1264 744,1264 744,1272 767.5,1272 767.5,1264 774,1264 774,1255.5 781.5,1255.5 781.5,1219 776.5,1219 776.5,1210.5" fill="none" stroke="#000" stroke-width="2.2" />
<ellipse cx="741" cy="1215" rx="2.4" ry="3.5" fill="#000"/>
<ellipse cx="750" cy="1215" rx="2.4" ry="3.5" fill="#000"/>
<ellipse cx="759.5" cy="1215" rx="2.4" ry="3.5" fill="#000"/>
<ellipse cx="768.5" cy="1215" rx="2.4" ry="3.5" fill="#000"/>
<text x="546" y="1343.7" font-size="26.2" text-anchor="start" fill="#000" >Последовательная передача данных</text>
<ellipse cx="309.2" cy="1398.7" rx="19.5" ry="14.3" fill="url(#tg)" stroke="#000" stroke-width="2.6"/>
<ellipse cx="309.2" cy="1398.7" rx="10.3" ry="6.8" fill="url(#tg)" stroke="#000" stroke-width="2.6"/>
<ellipse cx="309.2" cy="1463.7" rx="19.5" ry="16.5" fill="url(#tg)" stroke="#000" stroke-width="2.6"/>
<ellipse cx="309.2" cy="1463.7" rx="10.3" ry="8" fill="url(#tg)" stroke="#000" stroke-width="2.6"/>
<rect x="352.2" y="1383" width="225.4" height="33.5" fill="url(#leg)"/>
<text x="465" y="1407.8" font-size="26" text-anchor="middle" fill="#000" >Главный вход</text>
<rect x="352.2" y="1444" width="225.4" height="38.5" fill="url(#leg)"/>
<text x="465" y="1469.3" font-size="26" text-anchor="middle" fill="#000" >Главный выход</text>
<circle cx="608" cy="1406" r="8.3" fill="url(#tg)" stroke="#000" stroke-width="2.6"/>
<circle cx="608" cy="1465" r="8" fill="url(#tg)" stroke="#000" stroke-width="2.6"/>
<rect x="633.3" y="1377.4" width="200.1" height="45.6" fill="url(#leg)"/>
<text x="733.3" y="1401.9" font-size="26" text-anchor="middle" fill="#000" >Доп. вход</text>
<rect x="633.3" y="1441.5" width="200.1" height="37.9" fill="url(#leg)"/>
<text x="733.3" y="1466" font-size="26" text-anchor="middle" fill="#000" >Доп. выход</text>
<ellipse cx="942.1" cy="1398.5" rx="13.8" ry="39" fill="url(#ellg)" stroke="#000" stroke-width="2.6" stroke-dasharray="8 5"/>
<line x1="942" y1="1437.5" x2="942" y2="1460.3" stroke="#000" stroke-width="3" />
<line x1="915" y1="1460.3" x2="969.5" y2="1460.3" stroke="#000" stroke-width="3.5" stroke-linecap="round"/>
<line x1="924" y1="1464.5" x2="963.1" y2="1464.5" stroke="#000" stroke-width="3" />
<line x1="930.2" y1="1469.6" x2="952.6" y2="1469.6" stroke="#000" stroke-width="3" />
<rect x="984.7" y="1376.7" width="395.7" height="90.3" fill="url(#shh)"/>
<rect x="984.7" y="1376.7" width="395.7" height="90.3" fill="url(#shv)"/>
<mask id="gmask" maskUnits="userSpaceOnUse" x="1100" y="1190" width="300" height="310"><path d="M1274.5,1245.1 L1283.1,1224.2 L1303.5,1229.7 L1300.5,1252.1 L1327.4,1267.6 L1345.3,1253.8 L1360.2,1268.7 L1346.4,1286.6 L1361.9,1313.5 L1384.3,1310.5 L1389.8,1330.9 L1368.9,1339.5 L1368.9,1370.5 L1389.8,1379.1 L1384.3,1399.5 L1361.9,1396.5 L1346.4,1423.4 L1360.2,1441.3 L1345.3,1456.2 L1327.4,1442.4 L1300.5,1457.9 L1303.5,1480.3 L1283.1,1485.8 L1274.5,1464.9 L1243.5,1464.9 L1234.9,1485.8 L1214.5,1480.3 L1217.5,1457.9 L1190.6,1442.4 L1172.7,1456.2 L1157.8,1441.3 L1171.6,1423.4 L1156.1,1396.5 L1133.7,1399.5 L1128.2,1379.1 L1149.1,1370.5 L1149.1,1339.5 L1128.2,1330.9 L1133.7,1310.5 L1156.1,1313.5 L1171.6,1286.6 L1157.8,1268.7 L1172.7,1253.8 L1190.6,1267.6 L1217.5,1252.1 L1214.5,1229.7 L1234.9,1224.2 L1243.5,1245.1Z" fill="#fff" stroke="#fff" stroke-width="19" stroke-linejoin="round"/><path d="M1274.5,1245.1 L1283.1,1224.2 L1303.5,1229.7 L1300.5,1252.1 L1327.4,1267.6 L1345.3,1253.8 L1360.2,1268.7 L1346.4,1286.6 L1361.9,1313.5 L1384.3,1310.5 L1389.8,1330.9 L1368.9,1339.5 L1368.9,1370.5 L1389.8,1379.1 L1384.3,1399.5 L1361.9,1396.5 L1346.4,1423.4 L1360.2,1441.3 L1345.3,1456.2 L1327.4,1442.4 L1300.5,1457.9 L1303.5,1480.3 L1283.1,1485.8 L1274.5,1464.9 L1243.5,1464.9 L1234.9,1485.8 L1214.5,1480.3 L1217.5,1457.9 L1190.6,1442.4 L1172.7,1456.2 L1157.8,1441.3 L1171.6,1423.4 L1156.1,1396.5 L1133.7,1399.5 L1128.2,1379.1 L1149.1,1370.5 L1149.1,1339.5 L1128.2,1330.9 L1133.7,1310.5 L1156.1,1313.5 L1171.6,1286.6 L1157.8,1268.7 L1172.7,1253.8 L1190.6,1267.6 L1217.5,1252.1 L1214.5,1229.7 L1234.9,1224.2 L1243.5,1245.1Z" fill="none" stroke="#000" stroke-width="10.5" stroke-linejoin="round"/><path d="M1274.5,1245.1 L1283.1,1224.2 L1303.5,1229.7 L1300.5,1252.1 L1327.4,1267.6 L1345.3,1253.8 L1360.2,1268.7 L1346.4,1286.6 L1361.9,1313.5 L1384.3,1310.5 L1389.8,1330.9 L1368.9,1339.5 L1368.9,1370.5 L1389.8,1379.1 L1384.3,1399.5 L1361.9,1396.5 L1346.4,1423.4 L1360.2,1441.3 L1345.3,1456.2 L1327.4,1442.4 L1300.5,1457.9 L1303.5,1480.3 L1283.1,1485.8 L1274.5,1464.9 L1243.5,1464.9 L1234.9,1485.8 L1214.5,1480.3 L1217.5,1457.9 L1190.6,1442.4 L1172.7,1456.2 L1157.8,1441.3 L1171.6,1423.4 L1156.1,1396.5 L1133.7,1399.5 L1128.2,1379.1 L1149.1,1370.5 L1149.1,1339.5 L1128.2,1330.9 L1133.7,1310.5 L1156.1,1313.5 L1171.6,1286.6 L1157.8,1268.7 L1172.7,1253.8 L1190.6,1267.6 L1217.5,1252.1 L1214.5,1229.7 L1234.9,1224.2 L1243.5,1245.1Z" fill="#fff"/><circle cx="1259" cy="1355" r="98.6" fill="none" stroke="#000" stroke-width="4.6"/><circle cx="1259" cy="1355" r="87.7" fill="none" stroke="#000" stroke-width="4.6"/><rect x="1183.7" y="1342.6" width="40" height="17.7" fill="#000"/><rect x="1221.4" y="1304.9" width="17.7" height="92.5" fill="#000"/><polygon fill="#000" points="1239.1,1351.7 1284.3,1305.4 1308.9,1305.4 1264.9,1351.7 1288.9,1375.1 1296.9,1367.7 1308.9,1408.9 1270.9,1399.4 1279.7,1392.9 1239.1,1355"/></mask>
<g opacity="0.93"><path d="M1274.5,1245.1 L1283.1,1224.2 L1303.5,1229.7 L1300.5,1252.1 L1327.4,1267.6 L1345.3,1253.8 L1360.2,1268.7 L1346.4,1286.6 L1361.9,1313.5 L1384.3,1310.5 L1389.8,1330.9 L1368.9,1339.5 L1368.9,1370.5 L1389.8,1379.1 L1384.3,1399.5 L1361.9,1396.5 L1346.4,1423.4 L1360.2,1441.3 L1345.3,1456.2 L1327.4,1442.4 L1300.5,1457.9 L1303.5,1480.3 L1283.1,1485.8 L1274.5,1464.9 L1243.5,1464.9 L1234.9,1485.8 L1214.5,1480.3 L1217.5,1457.9 L1190.6,1442.4 L1172.7,1456.2 L1157.8,1441.3 L1171.6,1423.4 L1156.1,1396.5 L1133.7,1399.5 L1128.2,1379.1 L1149.1,1370.5 L1149.1,1339.5 L1128.2,1330.9 L1133.7,1310.5 L1156.1,1313.5 L1171.6,1286.6 L1157.8,1268.7 L1172.7,1253.8 L1190.6,1267.6 L1217.5,1252.1 L1214.5,1229.7 L1234.9,1224.2 L1243.5,1245.1Z" fill="#e2e7f8" stroke="#e2e7f8" stroke-width="19" stroke-linejoin="round"/><path d="M1274.5,1245.1 L1283.1,1224.2 L1303.5,1229.7 L1300.5,1252.1 L1327.4,1267.6 L1345.3,1253.8 L1360.2,1268.7 L1346.4,1286.6 L1361.9,1313.5 L1384.3,1310.5 L1389.8,1330.9 L1368.9,1339.5 L1368.9,1370.5 L1389.8,1379.1 L1384.3,1399.5 L1361.9,1396.5 L1346.4,1423.4 L1360.2,1441.3 L1345.3,1456.2 L1327.4,1442.4 L1300.5,1457.9 L1303.5,1480.3 L1283.1,1485.8 L1274.5,1464.9 L1243.5,1464.9 L1234.9,1485.8 L1214.5,1480.3 L1217.5,1457.9 L1190.6,1442.4 L1172.7,1456.2 L1157.8,1441.3 L1171.6,1423.4 L1156.1,1396.5 L1133.7,1399.5 L1128.2,1379.1 L1149.1,1370.5 L1149.1,1339.5 L1128.2,1330.9 L1133.7,1310.5 L1156.1,1313.5 L1171.6,1286.6 L1157.8,1268.7 L1172.7,1253.8 L1190.6,1267.6 L1217.5,1252.1 L1214.5,1229.7 L1234.9,1224.2 L1243.5,1245.1Z" fill="none" stroke="#fff" stroke-width="10.5" stroke-linejoin="round"/><path d="M1274.5,1245.1 L1283.1,1224.2 L1303.5,1229.7 L1300.5,1252.1 L1327.4,1267.6 L1345.3,1253.8 L1360.2,1268.7 L1346.4,1286.6 L1361.9,1313.5 L1384.3,1310.5 L1389.8,1330.9 L1368.9,1339.5 L1368.9,1370.5 L1389.8,1379.1 L1384.3,1399.5 L1361.9,1396.5 L1346.4,1423.4 L1360.2,1441.3 L1345.3,1456.2 L1327.4,1442.4 L1300.5,1457.9 L1303.5,1480.3 L1283.1,1485.8 L1274.5,1464.9 L1243.5,1464.9 L1234.9,1485.8 L1214.5,1480.3 L1217.5,1457.9 L1190.6,1442.4 L1172.7,1456.2 L1157.8,1441.3 L1171.6,1423.4 L1156.1,1396.5 L1133.7,1399.5 L1128.2,1379.1 L1149.1,1370.5 L1149.1,1339.5 L1128.2,1330.9 L1133.7,1310.5 L1156.1,1313.5 L1171.6,1286.6 L1157.8,1268.7 L1172.7,1253.8 L1190.6,1267.6 L1217.5,1252.1 L1214.5,1229.7 L1234.9,1224.2 L1243.5,1245.1Z" fill="#e2e7f8"/><circle cx="1259" cy="1355" r="98.6" fill="none" stroke="#fff" stroke-width="4.6"/><circle cx="1259" cy="1355" r="87.7" fill="none" stroke="#fff" stroke-width="4.6"/><rect x="1183.7" y="1342.6" width="40" height="17.7" fill="#fff"/><rect x="1221.4" y="1304.9" width="17.7" height="92.5" fill="#fff"/><polygon fill="#fff" points="1239.1,1351.7 1284.3,1305.4 1308.9,1305.4 1264.9,1351.7 1288.9,1375.1 1296.9,1367.7 1308.9,1408.9 1270.9,1399.4 1279.7,1392.9 1239.1,1355"/></g>
<text x="1182" y="1402.5" font-size="26.3" text-anchor="middle" fill="#000" >Экранированный провод</text>
<text x="1182" y="1434.6" font-size="26.3" text-anchor="middle" fill="#000" >(должен быть связан</text>
<text x="1182" y="1465" font-size="26.3" text-anchor="middle" fill="#000" >с заземлением)</text>
<rect x="1100" y="1190" width="300" height="310" fill="#5a78e6" mask="url(#gmask)" opacity="0.35"/>
</svg></body></html>
